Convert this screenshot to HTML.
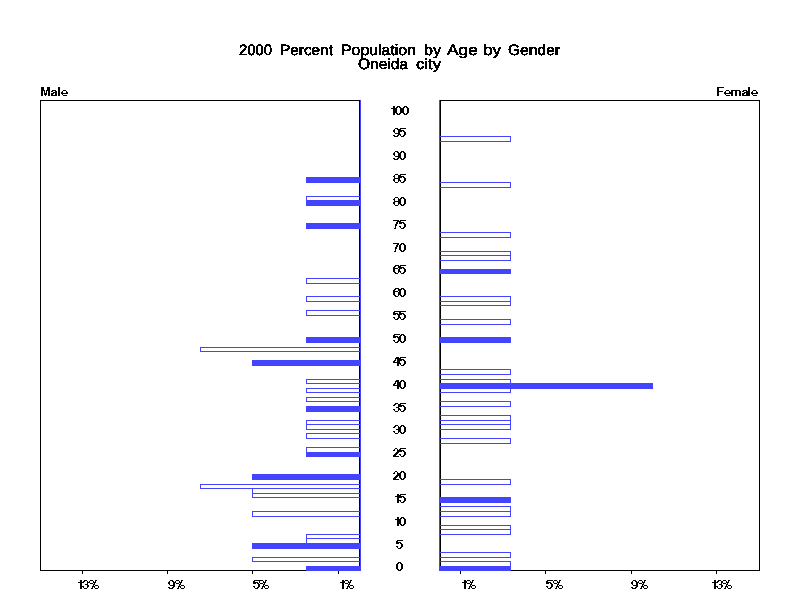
<!DOCTYPE html>
<html><head><meta charset="utf-8"><title>2000 Percent Population by Age by Gender</title>
<style>
html,body{margin:0;padding:0;background:#fff;}
body{width:800px;height:600px;position:relative;overflow:hidden;font-family:"Liberation Sans",sans-serif;color:#000;}
svg{position:absolute;left:0;top:0;}
</style></head>
<body>
<svg width="800" height="600" viewBox="0 0 800 600" shape-rendering="crispEdges">
<rect x="40.5" y="100.5" width="319" height="470" fill="none" stroke="#000" stroke-width="1"/>
<rect x="440.5" y="100.5" width="319" height="470" fill="none" stroke="#000" stroke-width="1"/>
<rect x="82" y="571" width="1" height="3" fill="#000"/>
<rect x="167" y="571" width="1" height="3" fill="#000"/>
<rect x="252" y="571" width="1" height="3" fill="#000"/>
<rect x="338" y="571" width="1" height="3" fill="#000"/>
<rect x="460" y="571" width="1" height="3" fill="#000"/>
<rect x="545" y="571" width="1" height="3" fill="#000"/>
<rect x="631" y="571" width="1" height="3" fill="#000"/>
<rect x="716" y="571" width="1" height="3" fill="#000"/>
<rect x="306.5" y="196.5" width="54" height="4" fill="none" stroke="#4444ff" stroke-width="1"/>
<rect x="306.5" y="278.5" width="54" height="5" fill="none" stroke="#4444ff" stroke-width="1"/>
<rect x="306.5" y="296.5" width="54" height="5" fill="none" stroke="#4444ff" stroke-width="1"/>
<rect x="306.5" y="310.5" width="54" height="5" fill="none" stroke="#4444ff" stroke-width="1"/>
<rect x="200.5" y="347.5" width="160" height="4" fill="none" stroke="#4444ff" stroke-width="1"/>
<rect x="306.5" y="379.5" width="54" height="4" fill="none" stroke="#4444ff" stroke-width="1"/>
<rect x="306.5" y="388.5" width="54" height="4" fill="none" stroke="#4444ff" stroke-width="1"/>
<rect x="306.5" y="397.5" width="54" height="4" fill="none" stroke="#4444ff" stroke-width="1"/>
<rect x="306.5" y="420.5" width="54" height="4" fill="none" stroke="#4444ff" stroke-width="1"/>
<rect x="306.5" y="424.5" width="54" height="5" fill="none" stroke="#4444ff" stroke-width="1"/>
<rect x="306.5" y="433.5" width="54" height="5" fill="none" stroke="#4444ff" stroke-width="1"/>
<rect x="306.5" y="447.5" width="54" height="5" fill="none" stroke="#4444ff" stroke-width="1"/>
<rect x="200.5" y="484.5" width="160" height="4" fill="none" stroke="#4444ff" stroke-width="1"/>
<rect x="252.5" y="488.5" width="108" height="5" fill="none" stroke="#4444ff" stroke-width="1"/>
<rect x="252.5" y="493.5" width="108" height="4" fill="none" stroke="#4444ff" stroke-width="1"/>
<rect x="252.5" y="511.5" width="108" height="5" fill="none" stroke="#4444ff" stroke-width="1"/>
<rect x="306.5" y="534.5" width="54" height="4" fill="none" stroke="#4444ff" stroke-width="1"/>
<rect x="306.5" y="538.5" width="54" height="5" fill="none" stroke="#4444ff" stroke-width="1"/>
<rect x="252.5" y="557.5" width="108" height="4" fill="none" stroke="#4444ff" stroke-width="1"/>
<rect x="439.5" y="136.5" width="71" height="5" fill="none" stroke="#4444ff" stroke-width="1"/>
<rect x="439.5" y="182.5" width="71" height="5" fill="none" stroke="#4444ff" stroke-width="1"/>
<rect x="439.5" y="232.5" width="71" height="5" fill="none" stroke="#4444ff" stroke-width="1"/>
<rect x="439.5" y="251.5" width="71" height="4" fill="none" stroke="#4444ff" stroke-width="1"/>
<rect x="439.5" y="255.5" width="71" height="5" fill="none" stroke="#4444ff" stroke-width="1"/>
<rect x="439.5" y="296.5" width="71" height="5" fill="none" stroke="#4444ff" stroke-width="1"/>
<rect x="439.5" y="301.5" width="71" height="4" fill="none" stroke="#4444ff" stroke-width="1"/>
<rect x="439.5" y="319.5" width="71" height="5" fill="none" stroke="#4444ff" stroke-width="1"/>
<rect x="439.5" y="369.5" width="71" height="5" fill="none" stroke="#4444ff" stroke-width="1"/>
<rect x="439.5" y="379.5" width="71" height="4" fill="none" stroke="#4444ff" stroke-width="1"/>
<rect x="439.5" y="388.5" width="71" height="4" fill="none" stroke="#4444ff" stroke-width="1"/>
<rect x="439.5" y="401.5" width="71" height="5" fill="none" stroke="#4444ff" stroke-width="1"/>
<rect x="439.5" y="415.5" width="71" height="5" fill="none" stroke="#4444ff" stroke-width="1"/>
<rect x="439.5" y="420.5" width="71" height="4" fill="none" stroke="#4444ff" stroke-width="1"/>
<rect x="439.5" y="424.5" width="71" height="5" fill="none" stroke="#4444ff" stroke-width="1"/>
<rect x="439.5" y="438.5" width="71" height="5" fill="none" stroke="#4444ff" stroke-width="1"/>
<rect x="439.5" y="479.5" width="71" height="5" fill="none" stroke="#4444ff" stroke-width="1"/>
<rect x="439.5" y="506.5" width="71" height="5" fill="none" stroke="#4444ff" stroke-width="1"/>
<rect x="439.5" y="511.5" width="71" height="5" fill="none" stroke="#4444ff" stroke-width="1"/>
<rect x="439.5" y="525.5" width="71" height="4" fill="none" stroke="#4444ff" stroke-width="1"/>
<rect x="439.5" y="529.5" width="71" height="5" fill="none" stroke="#4444ff" stroke-width="1"/>
<rect x="439.5" y="552.5" width="71" height="5" fill="none" stroke="#4444ff" stroke-width="1"/>
<rect x="439.5" y="561.5" width="71" height="5" fill="none" stroke="#4444ff" stroke-width="1"/>
<rect x="306" y="177" width="55" height="6" fill="#4444ff"/>
<rect x="306" y="200" width="55" height="6" fill="#4444ff"/>
<rect x="306" y="223" width="55" height="6" fill="#4444ff"/>
<rect x="306" y="337" width="55" height="6" fill="#4444ff"/>
<rect x="252" y="360" width="109" height="6" fill="#4444ff"/>
<rect x="306" y="406" width="55" height="6" fill="#4444ff"/>
<rect x="306" y="452" width="55" height="5" fill="#4444ff"/>
<rect x="252" y="474" width="109" height="6" fill="#4444ff"/>
<rect x="252" y="543" width="109" height="6" fill="#4444ff"/>
<rect x="306" y="566" width="55" height="5" fill="#4444ff"/>
<rect x="439" y="269" width="72" height="5" fill="#4444ff"/>
<rect x="439" y="337" width="72" height="6" fill="#4444ff"/>
<rect x="439" y="383" width="214" height="6" fill="#4444ff"/>
<rect x="439" y="497" width="72" height="6" fill="#4444ff"/>
<rect x="439" y="566" width="72" height="5" fill="#4444ff"/>
<rect x="360" y="100" width="1" height="471" fill="#4444ff"/>
<rect x="439" y="100" width="1" height="471" fill="#4444ff"/>
<path fill="#000" d="M393 106h2v1h-2zM393 107h2v1h-2zM391 108h4v1h-4zM393 109h2v1h-2zM393 110h2v1h-2zM393 111h2v1h-2zM393 112h2v1h-2zM393 113h2v1h-2zM393 114h2v1h-2zM397 106h3v1h-3zM396 107h2v1h-2zM399 107h2v1h-2zM395 108h2v1h-2zM400 108h2v1h-2zM395 109h2v1h-2zM400 109h2v1h-2zM395 110h2v1h-2zM400 110h2v1h-2zM395 111h2v1h-2zM400 111h2v1h-2zM395 112h2v1h-2zM400 112h2v1h-2zM396 113h2v1h-2zM399 113h2v1h-2zM397 114h3v1h-3zM404 106h3v1h-3zM403 107h2v1h-2zM406 107h2v1h-2zM402 108h2v1h-2zM407 108h2v1h-2zM402 109h2v1h-2zM407 109h2v1h-2zM402 110h2v1h-2zM407 110h2v1h-2zM402 111h2v1h-2zM407 111h2v1h-2zM402 112h2v1h-2zM407 112h2v1h-2zM403 113h2v1h-2zM406 113h2v1h-2zM404 114h3v1h-3zM395 128h3v1h-3zM394 129h1v1h-1zM397 129h2v1h-2zM393 130h2v1h-2zM398 130h2v1h-2zM393 131h2v1h-2zM398 131h2v1h-2zM394 132h1v1h-1zM398 132h2v1h-2zM395 133h5v1h-5zM398 134h2v1h-2zM393 135h2v1h-2zM397 135h2v1h-2zM394 136h4v1h-4zM400 128h6v1h-6zM399 129h2v1h-2zM399 130h5v1h-5zM399 131h3v1h-3zM403 131h2v1h-2zM404 132h2v1h-2zM404 133h2v1h-2zM399 134h2v1h-2zM404 134h2v1h-2zM400 135h1v1h-1zM403 135h2v1h-2zM401 136h3v1h-3zM395 151h3v1h-3zM394 152h1v1h-1zM397 152h2v1h-2zM393 153h2v1h-2zM398 153h2v1h-2zM393 154h2v1h-2zM398 154h2v1h-2zM394 155h1v1h-1zM398 155h2v1h-2zM395 156h5v1h-5zM398 157h2v1h-2zM393 158h2v1h-2zM397 158h2v1h-2zM394 159h4v1h-4zM401 151h3v1h-3zM400 152h2v1h-2zM403 152h2v1h-2zM399 153h2v1h-2zM404 153h2v1h-2zM399 154h2v1h-2zM404 154h2v1h-2zM399 155h2v1h-2zM404 155h2v1h-2zM399 156h2v1h-2zM404 156h2v1h-2zM399 157h2v1h-2zM404 157h2v1h-2zM400 158h2v1h-2zM403 158h2v1h-2zM401 159h3v1h-3zM395 174h3v1h-3zM394 175h1v1h-1zM398 175h1v1h-1zM393 176h2v1h-2zM398 176h2v1h-2zM394 177h1v1h-1zM398 177h2v1h-2zM394 178h6v1h-6zM393 179h2v1h-2zM398 179h2v1h-2zM393 180h2v1h-2zM398 180h2v1h-2zM394 181h1v1h-1zM398 181h1v1h-1zM395 182h3v1h-3zM400 174h6v1h-6zM399 175h2v1h-2zM399 176h5v1h-5zM399 177h3v1h-3zM403 177h2v1h-2zM404 178h2v1h-2zM404 179h2v1h-2zM399 180h2v1h-2zM404 180h2v1h-2zM400 181h1v1h-1zM403 181h2v1h-2zM401 182h3v1h-3zM395 197h3v1h-3zM394 198h1v1h-1zM398 198h1v1h-1zM393 199h2v1h-2zM398 199h2v1h-2zM394 200h1v1h-1zM398 200h2v1h-2zM394 201h6v1h-6zM393 202h2v1h-2zM398 202h2v1h-2zM393 203h2v1h-2zM398 203h2v1h-2zM394 204h1v1h-1zM398 204h1v1h-1zM395 205h3v1h-3zM401 197h3v1h-3zM400 198h2v1h-2zM403 198h2v1h-2zM399 199h2v1h-2zM404 199h2v1h-2zM399 200h2v1h-2zM404 200h2v1h-2zM399 201h2v1h-2zM404 201h2v1h-2zM399 202h2v1h-2zM404 202h2v1h-2zM399 203h2v1h-2zM404 203h2v1h-2zM400 204h2v1h-2zM403 204h2v1h-2zM401 205h3v1h-3zM393 220h6v1h-6zM397 221h2v1h-2zM396 222h2v1h-2zM396 223h2v1h-2zM395 224h2v1h-2zM395 225h2v1h-2zM395 226h1v1h-1zM395 227h1v1h-1zM394 228h2v1h-2zM400 220h6v1h-6zM399 221h2v1h-2zM399 222h5v1h-5zM399 223h3v1h-3zM403 223h2v1h-2zM404 224h2v1h-2zM404 225h2v1h-2zM399 226h2v1h-2zM404 226h2v1h-2zM400 227h1v1h-1zM403 227h2v1h-2zM401 228h3v1h-3zM393 243h6v1h-6zM397 244h2v1h-2zM396 245h2v1h-2zM396 246h2v1h-2zM395 247h2v1h-2zM395 248h2v1h-2zM395 249h1v1h-1zM395 250h1v1h-1zM394 251h2v1h-2zM401 243h3v1h-3zM400 244h2v1h-2zM403 244h2v1h-2zM399 245h2v1h-2zM404 245h2v1h-2zM399 246h2v1h-2zM404 246h2v1h-2zM399 247h2v1h-2zM404 247h2v1h-2zM399 248h2v1h-2zM404 248h2v1h-2zM399 249h2v1h-2zM404 249h2v1h-2zM400 250h2v1h-2zM403 250h2v1h-2zM401 251h3v1h-3zM395 265h4v1h-4zM394 266h2v1h-2zM398 266h2v1h-2zM393 267h2v1h-2zM398 267h2v1h-2zM393 268h5v1h-5zM393 269h2v1h-2zM398 269h2v1h-2zM393 270h2v1h-2zM398 270h2v1h-2zM393 271h2v1h-2zM398 271h2v1h-2zM394 272h2v1h-2zM398 272h1v1h-1zM395 273h3v1h-3zM400 265h6v1h-6zM399 266h2v1h-2zM399 267h5v1h-5zM399 268h3v1h-3zM403 268h2v1h-2zM404 269h2v1h-2zM404 270h2v1h-2zM399 271h2v1h-2zM404 271h2v1h-2zM400 272h1v1h-1zM403 272h2v1h-2zM401 273h3v1h-3zM395 288h4v1h-4zM394 289h2v1h-2zM398 289h2v1h-2zM393 290h2v1h-2zM398 290h2v1h-2zM393 291h5v1h-5zM393 292h2v1h-2zM398 292h2v1h-2zM393 293h2v1h-2zM398 293h2v1h-2zM393 294h2v1h-2zM398 294h2v1h-2zM394 295h2v1h-2zM398 295h1v1h-1zM395 296h3v1h-3zM401 288h3v1h-3zM400 289h2v1h-2zM403 289h2v1h-2zM399 290h2v1h-2zM404 290h2v1h-2zM399 291h2v1h-2zM404 291h2v1h-2zM399 292h2v1h-2zM404 292h2v1h-2zM399 293h2v1h-2zM404 293h2v1h-2zM399 294h2v1h-2zM404 294h2v1h-2zM400 295h2v1h-2zM403 295h2v1h-2zM401 296h3v1h-3zM394 311h6v1h-6zM393 312h2v1h-2zM393 313h5v1h-5zM393 314h3v1h-3zM397 314h2v1h-2zM398 315h2v1h-2zM398 316h2v1h-2zM393 317h2v1h-2zM398 317h2v1h-2zM394 318h1v1h-1zM397 318h2v1h-2zM395 319h3v1h-3zM400 311h6v1h-6zM399 312h2v1h-2zM399 313h5v1h-5zM399 314h3v1h-3zM403 314h2v1h-2zM404 315h2v1h-2zM404 316h2v1h-2zM399 317h2v1h-2zM404 317h2v1h-2zM400 318h1v1h-1zM403 318h2v1h-2zM401 319h3v1h-3zM394 334h6v1h-6zM393 335h2v1h-2zM393 336h5v1h-5zM393 337h3v1h-3zM397 337h2v1h-2zM398 338h2v1h-2zM398 339h2v1h-2zM393 340h2v1h-2zM398 340h2v1h-2zM394 341h1v1h-1zM397 341h2v1h-2zM395 342h3v1h-3zM401 334h3v1h-3zM400 335h2v1h-2zM403 335h2v1h-2zM399 336h2v1h-2zM404 336h2v1h-2zM399 337h2v1h-2zM404 337h2v1h-2zM399 338h2v1h-2zM404 338h2v1h-2zM399 339h2v1h-2zM404 339h2v1h-2zM399 340h2v1h-2zM404 340h2v1h-2zM400 341h2v1h-2zM403 341h2v1h-2zM401 342h3v1h-3zM396 357h3v1h-3zM395 358h4v1h-4zM395 359h1v1h-1zM397 359h2v1h-2zM394 360h2v1h-2zM397 360h2v1h-2zM393 361h2v1h-2zM397 361h3v1h-3zM393 362h7v1h-7zM397 363h2v1h-2zM397 364h2v1h-2zM397 365h2v1h-2zM400 357h6v1h-6zM399 358h2v1h-2zM399 359h5v1h-5zM399 360h3v1h-3zM403 360h2v1h-2zM404 361h2v1h-2zM404 362h2v1h-2zM399 363h2v1h-2zM404 363h2v1h-2zM400 364h1v1h-1zM403 364h2v1h-2zM401 365h3v1h-3zM396 380h3v1h-3zM395 381h4v1h-4zM395 382h1v1h-1zM397 382h2v1h-2zM394 383h2v1h-2zM397 383h2v1h-2zM393 384h2v1h-2zM397 384h3v1h-3zM393 385h7v1h-7zM397 386h2v1h-2zM397 387h2v1h-2zM397 388h2v1h-2zM401 380h3v1h-3zM400 381h2v1h-2zM403 381h2v1h-2zM399 382h2v1h-2zM404 382h2v1h-2zM399 383h2v1h-2zM404 383h2v1h-2zM399 384h2v1h-2zM404 384h2v1h-2zM399 385h2v1h-2zM404 385h2v1h-2zM399 386h2v1h-2zM404 386h2v1h-2zM400 387h2v1h-2zM403 387h2v1h-2zM401 388h3v1h-3zM395 403h3v1h-3zM394 404h2v1h-2zM398 404h1v1h-1zM393 405h2v1h-2zM398 405h2v1h-2zM398 406h1v1h-1zM396 407h3v1h-3zM398 408h2v1h-2zM393 409h2v1h-2zM398 409h2v1h-2zM394 410h1v1h-1zM398 410h1v1h-1zM395 411h3v1h-3zM400 403h6v1h-6zM399 404h2v1h-2zM399 405h5v1h-5zM399 406h3v1h-3zM403 406h2v1h-2zM404 407h2v1h-2zM404 408h2v1h-2zM399 409h2v1h-2zM404 409h2v1h-2zM400 410h1v1h-1zM403 410h2v1h-2zM401 411h3v1h-3zM395 425h3v1h-3zM394 426h2v1h-2zM398 426h1v1h-1zM393 427h2v1h-2zM398 427h2v1h-2zM398 428h1v1h-1zM396 429h3v1h-3zM398 430h2v1h-2zM393 431h2v1h-2zM398 431h2v1h-2zM394 432h1v1h-1zM398 432h1v1h-1zM395 433h3v1h-3zM401 425h3v1h-3zM400 426h2v1h-2zM403 426h2v1h-2zM399 427h2v1h-2zM404 427h2v1h-2zM399 428h2v1h-2zM404 428h2v1h-2zM399 429h2v1h-2zM404 429h2v1h-2zM399 430h2v1h-2zM404 430h2v1h-2zM399 431h2v1h-2zM404 431h2v1h-2zM400 432h2v1h-2zM403 432h2v1h-2zM401 433h3v1h-3zM395 448h2v1h-2zM394 449h1v1h-1zM397 449h1v1h-1zM393 450h2v1h-2zM397 450h2v1h-2zM397 451h2v1h-2zM396 452h3v1h-3zM395 453h3v1h-3zM394 454h3v1h-3zM393 455h3v1h-3zM393 456h6v1h-6zM400 448h6v1h-6zM399 449h2v1h-2zM399 450h5v1h-5zM399 451h3v1h-3zM403 451h2v1h-2zM404 452h2v1h-2zM404 453h2v1h-2zM399 454h2v1h-2zM404 454h2v1h-2zM400 455h1v1h-1zM403 455h2v1h-2zM401 456h3v1h-3zM395 471h2v1h-2zM394 472h1v1h-1zM397 472h1v1h-1zM393 473h2v1h-2zM397 473h2v1h-2zM397 474h2v1h-2zM396 475h3v1h-3zM395 476h3v1h-3zM394 477h3v1h-3zM393 478h3v1h-3zM393 479h6v1h-6zM401 471h3v1h-3zM400 472h2v1h-2zM403 472h2v1h-2zM399 473h2v1h-2zM404 473h2v1h-2zM399 474h2v1h-2zM404 474h2v1h-2zM399 475h2v1h-2zM404 475h2v1h-2zM399 476h2v1h-2zM404 476h2v1h-2zM399 477h2v1h-2zM404 477h2v1h-2zM400 478h2v1h-2zM403 478h2v1h-2zM401 479h3v1h-3zM397 494h2v1h-2zM397 495h2v1h-2zM395 496h4v1h-4zM397 497h2v1h-2zM397 498h2v1h-2zM397 499h2v1h-2zM397 500h2v1h-2zM397 501h2v1h-2zM397 502h2v1h-2zM400 494h6v1h-6zM399 495h2v1h-2zM399 496h5v1h-5zM399 497h3v1h-3zM403 497h2v1h-2zM404 498h2v1h-2zM404 499h2v1h-2zM399 500h2v1h-2zM404 500h2v1h-2zM400 501h1v1h-1zM403 501h2v1h-2zM401 502h3v1h-3zM397 517h2v1h-2zM397 518h2v1h-2zM395 519h4v1h-4zM397 520h2v1h-2zM397 521h2v1h-2zM397 522h2v1h-2zM397 523h2v1h-2zM397 524h2v1h-2zM397 525h2v1h-2zM401 517h3v1h-3zM400 518h2v1h-2zM403 518h2v1h-2zM399 519h2v1h-2zM404 519h2v1h-2zM399 520h2v1h-2zM404 520h2v1h-2zM399 521h2v1h-2zM404 521h2v1h-2zM399 522h2v1h-2zM404 522h2v1h-2zM399 523h2v1h-2zM404 523h2v1h-2zM400 524h2v1h-2zM403 524h2v1h-2zM401 525h3v1h-3zM397 540h6v1h-6zM396 541h2v1h-2zM396 542h5v1h-5zM396 543h3v1h-3zM400 543h2v1h-2zM401 544h2v1h-2zM401 545h2v1h-2zM396 546h2v1h-2zM401 546h2v1h-2zM397 547h1v1h-1zM400 547h2v1h-2zM398 548h3v1h-3zM398 562h3v1h-3zM397 563h2v1h-2zM400 563h2v1h-2zM396 564h2v1h-2zM401 564h2v1h-2zM396 565h2v1h-2zM401 565h2v1h-2zM396 566h2v1h-2zM401 566h2v1h-2zM396 567h2v1h-2zM401 567h2v1h-2zM396 568h2v1h-2zM401 568h2v1h-2zM397 569h2v1h-2zM400 569h2v1h-2zM398 570h3v1h-3zM80 580h2v1h-2zM80 581h2v1h-2zM78 582h4v1h-4zM80 583h2v1h-2zM80 584h2v1h-2zM80 585h2v1h-2zM80 586h2v1h-2zM80 587h2v1h-2zM80 588h2v1h-2zM84 580h3v1h-3zM83 581h2v1h-2zM87 581h1v1h-1zM82 582h2v1h-2zM87 582h2v1h-2zM87 583h1v1h-1zM85 584h3v1h-3zM87 585h2v1h-2zM82 586h2v1h-2zM87 586h2v1h-2zM83 587h1v1h-1zM87 587h1v1h-1zM84 588h3v1h-3zM90 580h3v1h-3zM95 580h2v1h-2zM89 581h1v1h-1zM93 581h1v1h-1zM95 581h1v1h-1zM89 582h1v1h-1zM93 582h3v1h-3zM90 583h3v1h-3zM94 583h1v1h-1zM93 584h2v1h-2zM93 585h1v1h-1zM95 585h3v1h-3zM92 586h3v1h-3zM98 586h1v1h-1zM92 587h1v1h-1zM94 587h1v1h-1zM98 587h1v1h-1zM91 588h2v1h-2zM95 588h3v1h-3zM170 580h3v1h-3zM169 581h1v1h-1zM172 581h2v1h-2zM168 582h2v1h-2zM173 582h2v1h-2zM168 583h2v1h-2zM173 583h2v1h-2zM169 584h1v1h-1zM173 584h2v1h-2zM170 585h5v1h-5zM173 586h2v1h-2zM168 587h2v1h-2zM172 587h2v1h-2zM169 588h4v1h-4zM176 580h3v1h-3zM181 580h2v1h-2zM175 581h1v1h-1zM179 581h1v1h-1zM181 581h1v1h-1zM175 582h1v1h-1zM179 582h3v1h-3zM176 583h3v1h-3zM180 583h1v1h-1zM179 584h2v1h-2zM179 585h1v1h-1zM181 585h3v1h-3zM178 586h3v1h-3zM184 586h1v1h-1zM178 587h1v1h-1zM180 587h1v1h-1zM184 587h1v1h-1zM177 588h2v1h-2zM181 588h3v1h-3zM254 580h6v1h-6zM253 581h2v1h-2zM253 582h5v1h-5zM253 583h3v1h-3zM257 583h2v1h-2zM258 584h2v1h-2zM258 585h2v1h-2zM253 586h2v1h-2zM258 586h2v1h-2zM254 587h1v1h-1zM257 587h2v1h-2zM255 588h3v1h-3zM260 580h3v1h-3zM265 580h2v1h-2zM259 581h1v1h-1zM263 581h1v1h-1zM265 581h1v1h-1zM259 582h1v1h-1zM263 582h3v1h-3zM260 583h3v1h-3zM264 583h1v1h-1zM263 584h2v1h-2zM263 585h1v1h-1zM265 585h3v1h-3zM262 586h3v1h-3zM268 586h1v1h-1zM262 587h1v1h-1zM264 587h1v1h-1zM268 587h1v1h-1zM261 588h2v1h-2zM265 588h3v1h-3zM342 580h2v1h-2zM342 581h2v1h-2zM340 582h4v1h-4zM342 583h2v1h-2zM342 584h2v1h-2zM342 585h2v1h-2zM342 586h2v1h-2zM342 587h2v1h-2zM342 588h2v1h-2zM345 580h3v1h-3zM350 580h2v1h-2zM344 581h1v1h-1zM348 581h1v1h-1zM350 581h1v1h-1zM344 582h1v1h-1zM348 582h3v1h-3zM345 583h3v1h-3zM349 583h1v1h-1zM348 584h2v1h-2zM348 585h1v1h-1zM350 585h3v1h-3zM347 586h3v1h-3zM353 586h1v1h-1zM347 587h1v1h-1zM349 587h1v1h-1zM353 587h1v1h-1zM346 588h2v1h-2zM350 588h3v1h-3zM464 580h2v1h-2zM464 581h2v1h-2zM462 582h4v1h-4zM464 583h2v1h-2zM464 584h2v1h-2zM464 585h2v1h-2zM464 586h2v1h-2zM464 587h2v1h-2zM464 588h2v1h-2zM467 580h3v1h-3zM472 580h2v1h-2zM466 581h1v1h-1zM470 581h1v1h-1zM472 581h1v1h-1zM466 582h1v1h-1zM470 582h3v1h-3zM467 583h3v1h-3zM471 583h1v1h-1zM470 584h2v1h-2zM470 585h1v1h-1zM472 585h3v1h-3zM469 586h3v1h-3zM475 586h1v1h-1zM469 587h1v1h-1zM471 587h1v1h-1zM475 587h1v1h-1zM468 588h2v1h-2zM472 588h3v1h-3zM547 580h6v1h-6zM546 581h2v1h-2zM546 582h5v1h-5zM546 583h3v1h-3zM550 583h2v1h-2zM551 584h2v1h-2zM551 585h2v1h-2zM546 586h2v1h-2zM551 586h2v1h-2zM547 587h1v1h-1zM550 587h2v1h-2zM548 588h3v1h-3zM554 580h3v1h-3zM559 580h2v1h-2zM553 581h1v1h-1zM557 581h1v1h-1zM559 581h1v1h-1zM553 582h1v1h-1zM557 582h3v1h-3zM554 583h3v1h-3zM558 583h1v1h-1zM557 584h2v1h-2zM557 585h1v1h-1zM559 585h3v1h-3zM556 586h3v1h-3zM562 586h1v1h-1zM556 587h1v1h-1zM558 587h1v1h-1zM562 587h1v1h-1zM555 588h2v1h-2zM559 588h3v1h-3zM633 580h3v1h-3zM632 581h1v1h-1zM635 581h2v1h-2zM631 582h2v1h-2zM636 582h2v1h-2zM631 583h2v1h-2zM636 583h2v1h-2zM632 584h1v1h-1zM636 584h2v1h-2zM633 585h5v1h-5zM636 586h2v1h-2zM631 587h2v1h-2zM635 587h2v1h-2zM632 588h4v1h-4zM639 580h3v1h-3zM644 580h2v1h-2zM638 581h1v1h-1zM642 581h1v1h-1zM644 581h1v1h-1zM638 582h1v1h-1zM642 582h3v1h-3zM639 583h3v1h-3zM643 583h1v1h-1zM642 584h2v1h-2zM642 585h1v1h-1zM644 585h3v1h-3zM641 586h3v1h-3zM647 586h1v1h-1zM641 587h1v1h-1zM643 587h1v1h-1zM647 587h1v1h-1zM640 588h2v1h-2zM644 588h3v1h-3zM714 580h2v1h-2zM714 581h2v1h-2zM712 582h4v1h-4zM714 583h2v1h-2zM714 584h2v1h-2zM714 585h2v1h-2zM714 586h2v1h-2zM714 587h2v1h-2zM714 588h2v1h-2zM718 580h3v1h-3zM717 581h2v1h-2zM721 581h1v1h-1zM716 582h2v1h-2zM721 582h2v1h-2zM721 583h1v1h-1zM719 584h3v1h-3zM721 585h2v1h-2zM716 586h2v1h-2zM721 586h2v1h-2zM717 587h1v1h-1zM721 587h1v1h-1zM718 588h3v1h-3zM723 580h3v1h-3zM728 580h2v1h-2zM722 581h1v1h-1zM726 581h1v1h-1zM728 581h1v1h-1zM722 582h1v1h-1zM726 582h3v1h-3zM723 583h3v1h-3zM727 583h1v1h-1zM726 584h2v1h-2zM726 585h1v1h-1zM728 585h3v1h-3zM725 586h3v1h-3zM731 586h1v1h-1zM725 587h1v1h-1zM727 587h1v1h-1zM731 587h1v1h-1zM724 588h2v1h-2zM728 588h3v1h-3zM41 87h3v1h-3zM47 87h3v1h-3zM41 88h3v1h-3zM47 88h3v1h-3zM41 89h3v1h-3zM47 89h3v1h-3zM41 90h4v1h-4zM46 90h4v1h-4zM41 91h2v1h-2zM44 91h1v1h-1zM46 91h1v1h-1zM48 91h2v1h-2zM41 92h2v1h-2zM44 92h1v1h-1zM46 92h1v1h-1zM48 92h2v1h-2zM41 93h2v1h-2zM44 93h3v1h-3zM48 93h2v1h-2zM41 94h2v1h-2zM44 94h3v1h-3zM48 94h2v1h-2zM41 95h2v1h-2zM45 95h1v1h-1zM48 95h2v1h-2zM52 90h4v1h-4zM51 91h2v1h-2zM55 91h2v1h-2zM53 92h4v1h-4zM51 93h3v1h-3zM55 93h2v1h-2zM51 94h2v1h-2zM55 94h2v1h-2zM51 95h6v1h-6zM58 87h2v1h-2zM58 88h2v1h-2zM58 89h2v1h-2zM58 90h2v1h-2zM58 91h2v1h-2zM58 92h2v1h-2zM58 93h2v1h-2zM58 94h2v1h-2zM58 95h2v1h-2zM63 90h3v1h-3zM62 91h1v1h-1zM66 91h1v1h-1zM61 92h2v1h-2zM66 92h2v1h-2zM61 93h7v1h-7zM62 94h1v1h-1zM63 95h4v1h-4zM717 87h7v1h-7zM717 88h2v1h-2zM717 89h2v1h-2zM717 90h2v1h-2zM717 91h6v1h-6zM717 92h2v1h-2zM717 93h2v1h-2zM717 94h2v1h-2zM717 95h2v1h-2zM726 90h3v1h-3zM725 91h1v1h-1zM729 91h1v1h-1zM724 92h2v1h-2zM729 92h2v1h-2zM724 93h7v1h-7zM725 94h1v1h-1zM726 95h4v1h-4zM731 90h9v1h-9zM731 91h2v1h-2zM735 91h2v1h-2zM739 91h2v1h-2zM731 92h2v1h-2zM735 92h2v1h-2zM739 92h2v1h-2zM731 93h2v1h-2zM735 93h2v1h-2zM739 93h2v1h-2zM731 94h2v1h-2zM735 94h2v1h-2zM739 94h2v1h-2zM731 95h2v1h-2zM735 95h2v1h-2zM739 95h2v1h-2zM743 90h4v1h-4zM742 91h2v1h-2zM746 91h2v1h-2zM744 92h4v1h-4zM742 93h3v1h-3zM746 93h2v1h-2zM742 94h2v1h-2zM746 94h2v1h-2zM742 95h6v1h-6zM748 87h2v1h-2zM748 88h2v1h-2zM748 89h2v1h-2zM748 90h2v1h-2zM748 91h2v1h-2zM748 92h2v1h-2zM748 93h2v1h-2zM748 94h2v1h-2zM748 95h2v1h-2zM753 90h3v1h-3zM752 91h1v1h-1zM756 91h1v1h-1zM751 92h2v1h-2zM756 92h2v1h-2zM751 93h7v1h-7zM752 94h1v1h-1zM753 95h4v1h-4z"/>
<defs><filter id="th" x="0" y="0" width="800" height="600" filterUnits="userSpaceOnUse" color-interpolation-filters="sRGB"><feComponentTransfer><feFuncA type="discrete" tableValues="0 1"/></feComponentTransfer></filter></defs>
<g font-family="Liberation Sans, sans-serif" fill="#000" shape-rendering="auto" text-rendering="geometricPrecision" filter="url(#th)">
<text x="239" y="55" transform="translate(0,-0.1) rotate(0.03 239 55)" font-size="15" textLength="33" lengthAdjust="spacingAndGlyphs" stroke="#000" stroke-width="0.55">2000</text>
<text x="280" y="55" transform="translate(0,-0.1) rotate(0.03 281 55)" font-size="15" textLength="53" lengthAdjust="spacingAndGlyphs" stroke="#000" stroke-width="0.55">Percent</text>
<text x="341" y="55" transform="translate(0,-0.1) rotate(0.03 342 55)" font-size="15" textLength="75" lengthAdjust="spacingAndGlyphs" stroke="#000" stroke-width="0.55">Population</text>
<text x="424" y="55" transform="translate(0,-0.1) rotate(0.03 425 55)" font-size="15" textLength="17" lengthAdjust="spacingAndGlyphs" stroke="#000" stroke-width="0.55">by</text>
<text x="447" y="55" transform="translate(0,-0.1) rotate(0.03 447 55)" font-size="15" textLength="31" lengthAdjust="spacingAndGlyphs" stroke="#000" stroke-width="0.55">Age</text>
<text x="483" y="55" transform="translate(0,-0.1) rotate(0.03 484 55)" font-size="15" textLength="18" lengthAdjust="spacingAndGlyphs" stroke="#000" stroke-width="0.55">by</text>
<text x="508" y="55" transform="translate(0,-0.1) rotate(0.03 508 55)" font-size="15" textLength="52" lengthAdjust="spacingAndGlyphs" stroke="#000" stroke-width="0.55">Gender</text>
<text x="358" y="69" transform="translate(0,-0.1) rotate(0.03 358 69)" font-size="15" textLength="50" lengthAdjust="spacingAndGlyphs" stroke="#000" stroke-width="0.55">Oneida</text>
<text x="416" y="69" transform="translate(0,-0.1) rotate(0.03 416 69)" font-size="15" textLength="25" lengthAdjust="spacingAndGlyphs" stroke="#000" stroke-width="0.55">city</text>
</g>
</svg>
</body></html>
